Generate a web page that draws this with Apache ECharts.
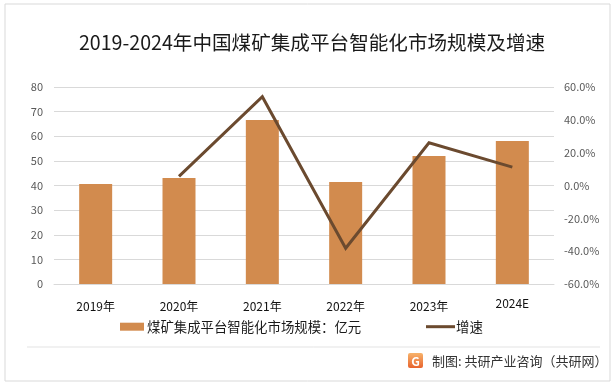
<!DOCTYPE html>
<html>
<head>
<meta charset="utf-8">
<script src="https://cdn.jsdelivr.net/npm/echarts@6/dist/echarts.min.js"></script>
<style>
html,body{margin:0;padding:0;background:#fff;}
#chart{width:615px;height:388px;}
</style>
</head>
<body>
<div id="chart"></div>
<script>
var years = ['2019年', '2020年', '2021年', '2022年', '2023年', '2024E'];
var marketSize = [40.6, 43.0, 66.6, 41.4, 52.0, 58.1];
var growthRate = [null, 5.6, 54.1, -38.2, 26.0, 11.2];
var leftTicks = {min: 0, max: 80, interval: 10};
var rightTicks = {min: -60, max: 60, interval: 20};
var barName = '煤矿集成平台智能化市场规模：亿元';
var lineName = '增速';

var FONT = '"Noto Sans CJK SC", "Noto Sans", sans-serif';
var chart = echarts.init(document.getElementById('chart'), null, {renderer: 'canvas'});

chart.setOption({
  backgroundColor: '#ffffff',
  animation: false,
  textStyle: {fontFamily: FONT},
  title: {
    text: '2019-2024年中国煤矿集成平台智能化市场规模及增速',
    left: 79,
    top: 33,
    padding: 0,
    textStyle: {fontFamily: FONT, fontSize: 19.6, fontWeight: 'normal', color: '#1a1a1a'}
  },
  legend: [{
    data: [{name: barName, icon: 'rect'}],
    left: 120,
    top: 320,
    padding: 0,
    itemWidth: 24,
    itemHeight: 8,
    itemGap: 4,
    textStyle: {fontFamily: FONT, fontSize: 13.4, color: '#1a1a1a', padding: [0, 0, 0, -2]}
  }, {
    data: [{name: lineName, icon: 'rect'}],
    left: 426,
    top: 320,
    padding: 0,
    itemWidth: 29,
    itemHeight: 3,
    textStyle: {fontFamily: FONT, fontSize: 13.4, color: '#1a1a1a', padding: [0, 0, 0, -4]}
  }],
  grid: {left: 54, right: 61, top: 87, bottom: 104, containLabel: false},
  xAxis: {
    type: 'category',
    data: years,
    axisLine: {lineStyle: {color: '#d9d9d9', width: 1}},
    axisTick: {show: false},
    axisLabel: {
      fontFamily: FONT, fontSize: 12, color: '#111111', margin: 28,
      verticalAlign: 'bottom',
      formatter: function (v) { return v.indexOf('E') >= 0 ? '{e|' + v + '}' : v; },
      rich: {e: {fontFamily: FONT, fontSize: 12, color: '#111111', padding: [0, 0, 3, 0]}}
    }
  },
  yAxis: [{
    type: 'value',
    min: leftTicks.min,
    max: leftTicks.max,
    interval: leftTicks.interval,
    axisLine: {show: false},
    axisTick: {show: false},
    splitLine: {lineStyle: {color: '#d9d9d9', width: 1}},
    axisLabel: {fontFamily: FONT, fontSize: 11, color: '#595959', margin: 11}
  }, {
    type: 'value',
    min: rightTicks.min,
    max: rightTicks.max,
    interval: rightTicks.interval,
    axisLine: {show: false},
    axisTick: {show: false},
    splitLine: {show: false},
    axisLabel: {
      fontFamily: FONT, fontSize: 11, color: '#595959', margin: 10,
      formatter: function (v) { return v.toFixed(1) + '%'; }
    }
  }],
  series: [{
    name: barName,
    type: 'bar',
    data: marketSize,
    barWidth: 33,
    itemStyle: {color: '#D28B4E'},
    z: 2
  }, {
    name: lineName,
    type: 'line',
    yAxisIndex: 1,
    data: growthRate,
    symbol: 'none',
    showSymbol: false,
    connectNulls: false,
    lineStyle: {color: '#6B4A2F', width: 3, join: 'miter'},
    itemStyle: {color: '#6B4A2F'},
    z: 3
  }],
  graphic: [{
    type: 'rect',
    shape: {x: 5, y: 4, width: 605, height: 377},
    style: {fill: 'none', stroke: '#d9d9d9', lineWidth: 1},
    silent: true,
    z: -1
  }, {
    type: 'line',
    shape: {x1: 27, y1: 347, x2: 600, y2: 347},
    style: {stroke: '#e3e3e3', lineWidth: 1},
    silent: true
  }, {
    type: 'group',
    left: 408,
    top: 353,
    children: [{
      type: 'rect',
      shape: {x: 0, y: 0, width: 15, height: 15, r: 2},
      style: {
        fill: new echarts.graphic.LinearGradient(0, 0, 0, 1, [
          {offset: 0, color: '#f7b36b'},
          {offset: 1, color: '#e8642e'}
        ])
      }
    }, {
      type: 'text',
      style: {
        x: 7.5, y: 8, text: 'G', fill: '#ffffff',
        font: 'bold 12px ' + FONT, align: 'center', verticalAlign: 'middle'
      }
    }]
  }, {
    type: 'text',
    style: {
      x: 432, y: 361, text: '制图: 共研产业咨询（共研网）',
      fill: '#333333', font: '13px ' + FONT, verticalAlign: 'middle'
    },
    silent: true
  }]
});
</script>
</body>
</html>
